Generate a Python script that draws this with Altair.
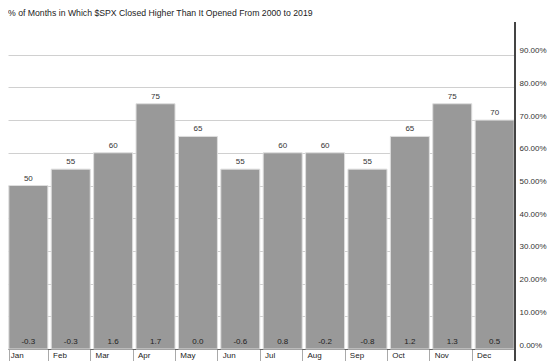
import altair as alt
import pandas as pd

months = ["Jan", "Feb", "Mar", "Apr", "May", "Jun", "Jul", "Aug", "Sep", "Oct", "Nov", "Dec"]
pct_higher = [50, 55, 60, 75, 65, 55, 60, 60, 55, 65, 75, 70]
avg_return = [-0.3, -0.3, 1.6, 1.7, 0.0, -0.6, 0.8, -0.2, -0.8, 1.2, 1.3, 0.5]
y_ticks = [0, 0.1, 0.2, 0.3, 0.4, 0.5, 0.6, 0.7, 0.8, 0.9]

W, H = 507, 327

df = pd.DataFrame({
    "month": months,
    "pct": [p / 100 for p in pct_higher],
    "pct_label": [str(p) for p in pct_higher],
    "ret_label": [f"{v:.1f}" for v in avg_return],
})

x = alt.X("month:N", sort=months, title=None,
          scale=alt.Scale(paddingInner=0.08, paddingOuter=0.02),
          axis=alt.Axis(labelAngle=0, labelAlign="left", labelOffset=-W / 24 + 3,
                        labelFontSize=8, labelColor="#222", labelFont="Liberation Sans",
                        labelPadding=-10, tickBand="extent", tickSize=12, tickColor="#aaa",
                        domainColor="#666", labelBaseline="top", grid=False,
                        labelOverlap=False))

y = alt.Y("pct:Q", title=None,
          scale=alt.Scale(domain=[0, 1], nice=False),
          axis=alt.Axis(orient="right", format=".2%", values=y_ticks, labelFontSize=8,
                        labelColor="#333", labelFont="Liberation Sans", labelBaseline="bottom",
                        labelPadding=4, ticks=False, domain=False, grid=True,
                        gridColor="#d0d0d0", labelAlign="left", labelOverlap=False,
                        labelFlush=False, tickCount=10))

base = alt.Chart(df).encode(x=x)

bars = base.mark_bar(color="#999999", stroke="#dedede", strokeWidth=1).encode(y=y)

top_labels = base.mark_text(baseline="bottom", dy=-3, fontSize=8, color="#333",
                            font="Liberation Sans").encode(y=y, text="pct_label:N")

bottom_labels = base.mark_text(baseline="bottom", fontSize=8, color="#222",
                               font="Liberation Sans").encode(
    y=alt.value(H - 3), text="ret_label:N")

axis_line = base.mark_rule(color="#444", strokeWidth=1, clip=False).encode(
    x=alt.value(W), y=alt.value(0), y2=alt.value(H + 16))

chart = alt.layer(bars, top_labels, bottom_labels, axis_line).properties(
    width=W, height=H,
    autosize=alt.AutoSizeParams(type="none"),
    padding={"left": 0, "top": 14, "right": 32, "bottom": 12},
    title=alt.TitleParams(
        "% of Months in Which $SPX Closed Higher Than It Opened From 2000 to 2019",
        anchor="start", fontSize=8.7, fontWeight="normal", color="#222",
        font="Liberation Sans", offset=4),
).configure_view(stroke=None)

chart.save("out.html", embed_options={"renderer": "svg", "actions": False})
